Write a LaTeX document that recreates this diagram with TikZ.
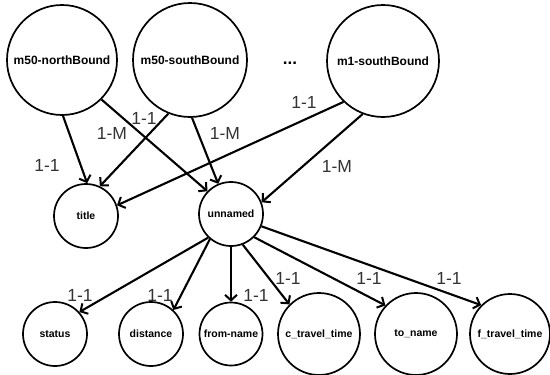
\documentclass[tikz,border=0pt]{standalone}
\usepackage{fontspec}
\setmainfont{Liberation Sans}
\usetikzlibrary{arrows.meta}
\tikzset{
  ent/.style={circle,draw=black,line width=1.7pt,inner sep=0pt,font=\bfseries\fontsize{10.5}{12}\selectfont},
  bigent/.style={ent,font=\bfseries\fontsize{12}{14}\selectfont},
  rel/.style={line width=2.1pt,-{Straight Barb[length=5.5pt,width=12pt,line width=2pt]}},
  card/.style={inner sep=0pt,text=black!80,font=\fontsize{17.5}{19}\selectfont}
}
\begin{document}
\begin{tikzpicture}[x=1pt,y=-1pt]
\useasboundingbox (0,0) rectangle (550,375);
% top entities
\node[bigent,minimum size=110pt] (nb) at (62,60) {m50-northBound};
\node[bigent,minimum size=114pt] (sb) at (190,60) {m50-southBound};
\node[bigent,minimum size=112pt] (m1) at (383,61) {m1-southBound};
\node[font=\bfseries\fontsize{17}{18}\selectfont] (dots) at (290,63) {...};
% middle
\node[ent,minimum size=64pt] (title) at (86,216) {title};
\node[ent,minimum size=64pt] (un) at (231,214) {unnamed};
% bottom
\node[ent,minimum size=64pt] (status) at (55,334) {status};
\node[ent,minimum size=64pt] (dist) at (151,334) {distance};
\node[ent,minimum size=63pt] (from) at (231,334) {from-name};
\node[ent,minimum size=82pt] (ctt) at (319,334) {c\_travel\_time};
\node[ent,minimum size=82pt] (to) at (416,334) {to\_name};
\node[ent,minimum size=80pt] (ftt) at (510,334) {f\_travel\_time};
% connectors
\draw[rel] (nb.-89) -- (title.88);
\draw[rel] (nb.-45.7) -- (un.136);
\draw[rel] (sb.-112) -- (title.65);
\draw[rel] (sb.-88) -- (un.113);
\draw[rel] (m1.-134) -- (title.19);
\draw[rel] (m1.-111) -- (un.21);
\draw[rel] (un.-134) -- (status.42);
\draw[rel] (un.-130) -- (dist.47);
\draw[rel] (un.-90) -- (from.90);
\draw[rel] (un.-69) -- (ctt.135);
\draw[rel] (un.-45) -- (to.137);
\draw[rel] (un.-22) -- (ftt.135);
% cardinalities
\node[card] (l1) at (47,165) {1-1};
\node[card] (l2) at (112,133) {1-M};
\node[card] (l3) at (144,118) {1-1};
\node[card] (l4) at (225,133) {1-M};
\node[card] (l5) at (304,102) {1-1};
\node[card] (l6) at (337,166) {1-M};
\node[card] (l7) at (80,295) {1-1};
\node[card] (l8) at (160,295) {1-1};
\node[card] (l9) at (256,295) {1-1};
\node[card] (l10) at (288,278) {1-1};
\node[card] (l11) at (369,278) {1-1};
\node[card] (l12) at (449,278) {1-1};
\end{tikzpicture}
\end{document}
